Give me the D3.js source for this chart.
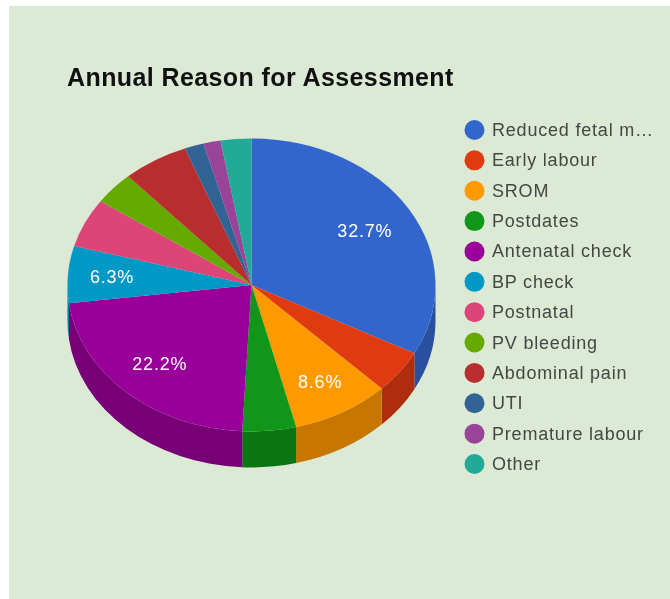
<!DOCTYPE html>
<html><head><meta charset="utf-8">
<script src="https://cdn.jsdelivr.net/npm/d3@7"></script>
<style>html,body{margin:0;padding:0;background:#fff;overflow:hidden}svg{display:block;filter:blur(.45px)}</style>
</head><body><svg id="c" width="670" height="599"></svg>
<script>
const title = "Annual Reason for Assessment";
const categories = ["Reduced fetal m\u2026","Early labour","SROM","Postdates","Antenatal check","BP check","Postnatal","PV bleeding","Abdominal pain","UTI","Premature labour","Other"];
const shares = [32.7,4.8,8.6,4.7,22.2,6.3,5.4,3.6,5.8,1.7,1.5,2.7];
const colours = ["#3366cc","#e03a10","#ff9900","#109618","#990099","#0099c6","#dd4477","#66aa00","#b82e2e","#316395","#994499","#22aa99"];
const labelledMin = 6;
const labelReach = {"Reduced fetal m\u2026":.72,"SROM":.757,"Antenatal check":.733,"BP check":.76};

const svg = d3.select("#c");
const cx = 251.5, cy = 285, rx = 184, ry = 146.5, depth = 36;
const font = "'Liberation Sans',Arial,sans-serif";
svg.append("rect").attr("x",9).attr("y",6).attr("width",661).attr("height",593).attr("fill","#dce9d5");
svg.append("text").attr("x",67).attr("y",86).text(title)
  .attr("font-family",font).attr("font-weight","bold").attr("font-size",25).attr("letter-spacing",.4).attr("fill","#111");

const colour = d3.scaleOrdinal(categories, colours);
const shade = c => { const k=d3.rgb(c); return d3.rgb(k.r*.78,k.g*.78,k.b*.78).formatHex(); };
const slices = d3.pie().value(d=>d).sort(null)(shares).map((s,i)=>({...s,name:categories[i]}));
const sy = ry/rx, dUnits = depth/sy;
const pie = svg.append("g").attr("transform",`translate(${cx},${cy}) scale(1,${sy})`);

// front wall
const HP = Math.PI/2;
slices.forEach(s=>{
  const a0 = Math.max(s.startAngle, HP), a1 = Math.min(s.endAngle, 3*HP);
  if (a1 <= a0) return;
  const p = d3.path(), t0=a0-HP, t1=a1-HP;
  p.moveTo(rx*Math.cos(t0), rx*Math.sin(t0));
  p.arc(0,0,rx,t0,t1);
  p.lineTo(rx*Math.cos(t1), rx*Math.sin(t1)+dUnits);
  p.arc(0,dUnits,rx,t1,t0,true);
  p.closePath();
  pie.append("path").attr("d",p.toString()).attr("fill",shade(colour(s.name)));
});
// top face
const arc = d3.arc().innerRadius(0).outerRadius(rx);
pie.selectAll("path.top").data(slices).join("path").attr("class","top").attr("d",arc).attr("fill",d=>colour(d.name));

// slice labels
const labelPos = d => {
  const r = rx*labelReach[d.name];
  return d3.arc().innerRadius(r).outerRadius(r).centroid(d);
};
svg.append("g").selectAll("text").data(slices.filter(s=>s.value>=labelledMin)).join("text")
  .attr("x",d=>cx+labelPos(d)[0]).attr("y",d=>cy+labelPos(d)[1]*sy+6.5)
  .attr("text-anchor","middle").attr("fill","#fff")
  .attr("font-family",font).attr("font-size",18).attr("letter-spacing",.8)
  .text(d=>d.value.toFixed(1)+"%");

// legend
const rowY = d3.scalePoint(categories,[130,464]);
const rows = svg.append("g").selectAll("g").data(categories).join("g").attr("transform",d=>`translate(0,${rowY(d)})`);
rows.append("circle").attr("cx",474.5).attr("r",10).attr("fill",d=>colour(d));
rows.append("text").attr("x",492).attr("y",6).text(d=>d).attr("fill","#444844")
  .attr("font-family",font).attr("font-size",18).attr("letter-spacing",.8);
</script></body></html>
